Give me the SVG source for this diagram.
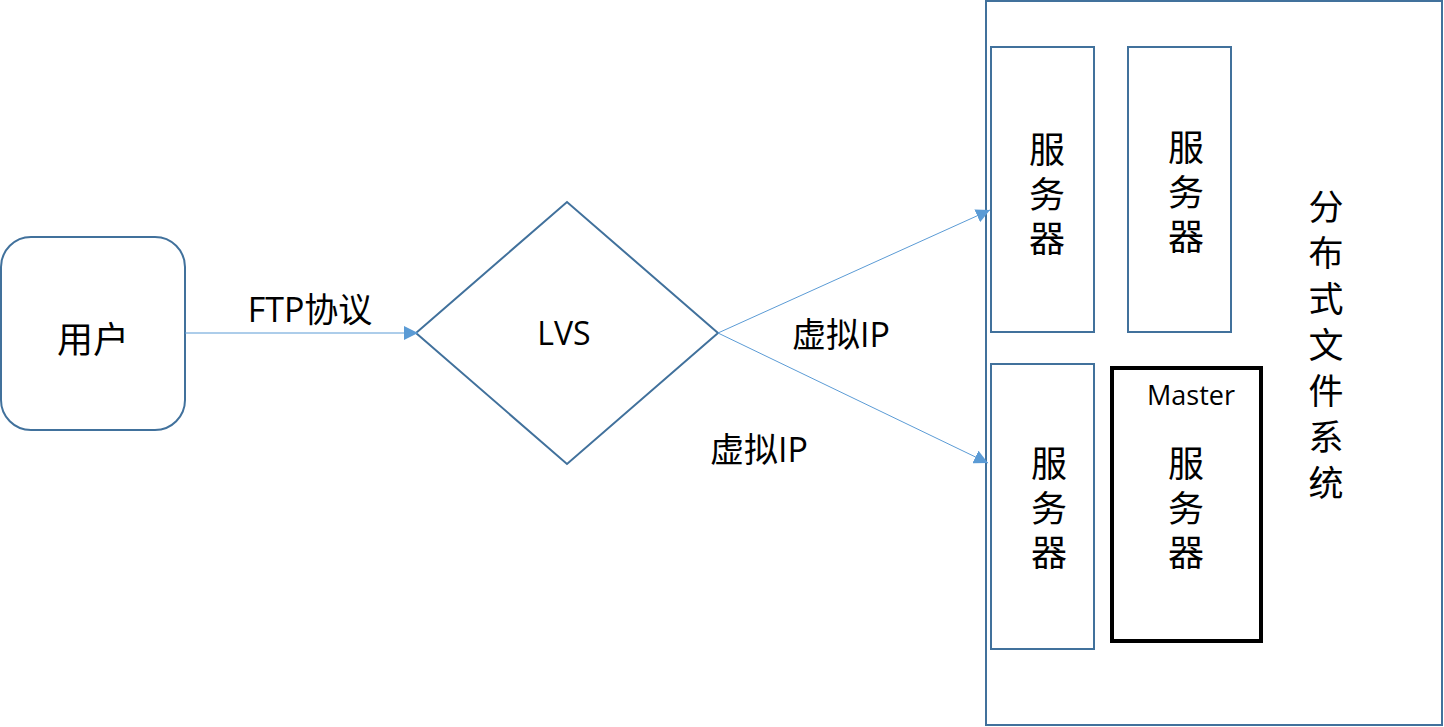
<svg xmlns="http://www.w3.org/2000/svg" width="1444" height="727" viewBox="0 0 1444 727">
<style>
.box{fill:#fff;stroke:#41719c;stroke-width:2}
.t{font-family:"Open Sans","Noto Sans CJK SC",sans-serif;fill:#000;text-anchor:middle}
.c{stroke:#5b9bd5;stroke-width:1;fill:none}
</style>
<defs>
<marker id="ah" viewBox="0 0 10 10" refX="10" refY="5" markerWidth="14" markerHeight="14" markerUnits="userSpaceOnUse" orient="auto">
<path d="M0,0 L10,5 L0,10 z" fill="#5b9bd5"/>
</marker>
</defs>
<rect width="1444" height="727" fill="#fff"/>
<g id="fs">
<rect class="box" x="986" y="1" width="456" height="724"/>
<text class="t" font-size="35"><tspan x="1326" y="220">分</tspan><tspan x="1326" y="266">布</tspan><tspan x="1326" y="312">式</tspan><tspan x="1326" y="358">文</tspan><tspan x="1326" y="404">件</tspan><tspan x="1326" y="450">系</tspan><tspan x="1326" y="496">统</tspan></text>
</g>
<g id="user">
<rect class="box" x="1" y="237" width="184" height="193" rx="30"/>
<text class="t" x="93" y="353" font-size="36">用户</text>
</g>
<g id="lvs">
<polygon class="box" points="416,333 567,202 718,333 567,464"/>
<text class="t" x="564" y="345" font-size="32">LVS</text>
</g>
<g id="server1">
<rect class="box" x="991" y="47" width="103" height="285"/>
<text class="t" font-size="36"><tspan x="1047" y="163">服</tspan><tspan x="1047" y="208">务</tspan><tspan x="1047" y="252">器</tspan></text>
</g>
<g id="server2">
<rect class="box" x="1128" y="47" width="103" height="285"/>
<text class="t" font-size="36"><tspan x="1186" y="161">服</tspan><tspan x="1186" y="206">务</tspan><tspan x="1186" y="250">器</tspan></text>
</g>
<g id="server3">
<rect class="box" x="991" y="364" width="103" height="285"/>
<text class="t" font-size="36"><tspan x="1049" y="477">服</tspan><tspan x="1049" y="522">务</tspan><tspan x="1049" y="566">器</tspan></text>
</g>
<g id="master">
<rect x="1112" y="368" width="149" height="273" fill="#fff" stroke="#000" stroke-width="4"/>
<text class="t" x="1191" y="405" font-size="27">Master</text>
<text class="t" font-size="36"><tspan x="1186" y="477">服</tspan><tspan x="1186" y="522">务</tspan><tspan x="1186" y="566">器</tspan></text>
</g>
<g id="connectors">
<line class="c" x1="185" y1="333" x2="418" y2="333" marker-end="url(#ah)"/>
<line class="c" x1="718" y1="333" x2="990" y2="210" marker-end="url(#ah)"/>
<line class="c" x1="718" y1="333" x2="988" y2="463" marker-end="url(#ah)"/>
<text class="t" x="310" y="322" font-size="34">FTP协议</text>
<text class="t" x="841" y="347" font-size="34">虚拟IP</text>
<text class="t" x="759" y="462" font-size="34">虚拟IP</text>
</g>
</svg>
